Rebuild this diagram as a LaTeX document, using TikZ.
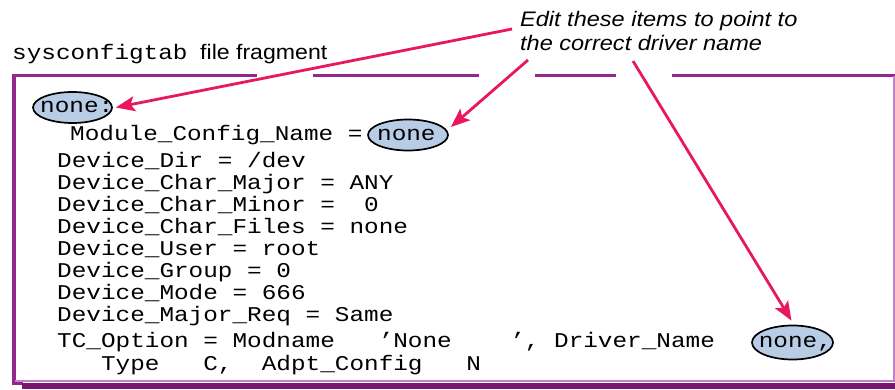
\documentclass[tikz,border=0pt]{standalone}
\usepackage{fontspec}
\setmainfont{Liberation Sans}
\newfontfamily\monof[FakeStretch=1.16]{Liberation Mono}
\newfontfamily\sansf[FakeStretch=1.1]{Liberation Sans}
\newfontfamily\notef[FakeStretch=1.12]{Liberation Sans}
\usetikzlibrary{arrows.meta,calc,shapes.geometric}
\definecolor{framecol}{RGB}{147,39,143}
\definecolor{framelight}{RGB}{196,128,196}
\definecolor{frameshadow}{RGB}{118,22,112}
\definecolor{arrowpink}{RGB}{232,24,96}
\definecolor{hlfill}{RGB}{184,204,230}
\begin{document}
\begin{tikzpicture}[x=1pt,y=-1pt,
  code/.style={anchor=base west, inner sep=0pt, font=\monof\fontsize{21}{22}\selectfont},
  label/.style={anchor=base west, inner sep=0pt, font=\sansf\fontsize{21}{22}\selectfont},
  note/.style={anchor=base west, inner sep=0pt, font=\notef\itshape\fontsize{21}{24}\selectfont},
  hl/.style={ellipse, draw=black, line width=1.7pt, fill=hlfill, inner sep=0pt},
  thickframe/.style={draw=framecol, line width=3.5pt},
  thinframe/.style={draw=framelight, line width=1.2pt},
  pointer/.style={draw=arrowpink, line width=2.8pt, -{Stealth[length=19pt,width=15pt,inset=4pt]}}
]
\useasboundingbox (0,0) rectangle (895,389);
\fill[white] (0,0) rectangle (895,389);

% frame
\draw[thickframe] (12,75.5) -- (257,75.5);
\draw[thickframe] (313,75.5) -- (479,75.5);
\draw[thickframe] (535,75.5) -- (616,75.5);
\draw[thickframe] (672,75.5) -- (895,75.5);
\draw[thickframe] (14,74) -- (14,385);
\draw[thinframe] (894,76) -- (894,381) -- (15,381);
\draw[draw=framecol, line width=3pt] (12.5,383.5) -- (23,383.5);
\fill[frameshadow] (22,383) rectangle (895,389);

% header
\node[code] (hdr) at (12,59.5) {sysconfigtab};
\node[label] (frag) at (200,59.5) {file fragment};

% annotation
\node[note] (note1) at (520,26) {Edit these items to point to};
\node[note] (note2) at (520,50) {the correct driver name};

% highlighted items
\node[hl, minimum width=79pt, minimum height=31pt] (e1) at (72.5,107.5) {};
\node[hl, minimum width=80pt, minimum height=31pt] (e2) at (408,135) {};
\node[hl, minimum width=81pt, minimum height=34pt] (e3) at (792.5,342.5) {};

% code lines
\node[code] (l0) at (40,112.5) {none:};
\node[code] (l1) at (70,140) {Module\_Config\_Name = none};
\node[code] (l2) at (57,167) {Device\_Dir = /dev};
\node[code] (l3) at (57,189) {Device\_Char\_Major = ANY};
\node[code] (l4) at (57,211) {Device\_Char\_Minor =~~0};
\node[code] (l5) at (57,233) {Device\_Char\_Files = none};
\node[code] (l6) at (57,255) {Device\_User = root};
\node[code] (l7) at (57,277) {Device\_Group = 0};
\node[code] (l8) at (57,299) {Device\_Mode = 666};
\node[code] (l9) at (57,321) {Device\_Major\_Req = Same};
\node[code] (l10) at (57,347) {TC\_Option = Modname~~~’None~~~~’, Driver\_Name~~~none,};
\node[code] (l11) at (57,370) {~~~Type~~~C,~~Adpt\_Config~~~N};

% pointers
\coordinate (s1) at (512,29);
\coordinate (s2) at (528,60);
\coordinate (s3) at (633,61);
\draw[pointer] (s1) -- ($(e1.east)+(3,0)$);
\draw[pointer] (s2) -- ($(e2.east)+(2,-8)$);
\draw[pointer] (s3) -- ($(e3.north)+(-1,-4)$);
\end{tikzpicture}
\end{document}
